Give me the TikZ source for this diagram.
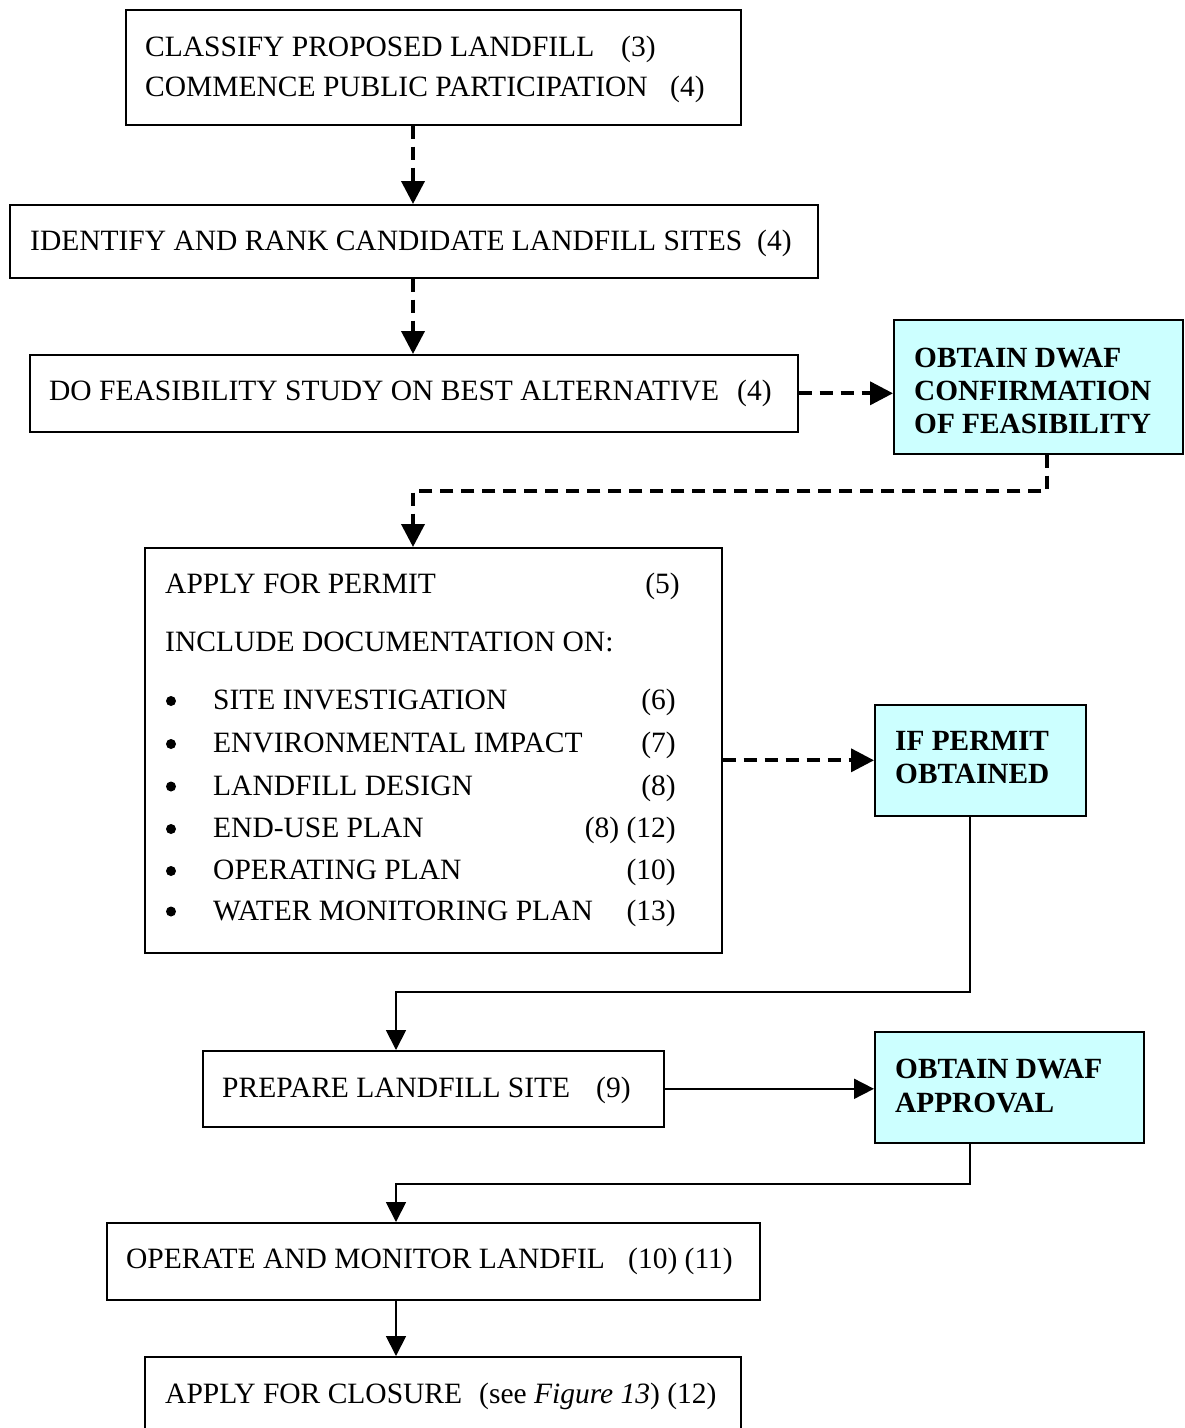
\documentclass[tikz,border=0pt]{standalone}
\usepackage{fontspec}
\setmainfont{Liberation Serif}
\usetikzlibrary{arrows.meta}
\definecolor{cyanfill}{HTML}{CCFFFF}

\begin{document}
\begin{tikzpicture}[x=1pt,y=-1pt,
  box/.style={draw, line width=1.6pt, inner sep=0pt, anchor=north west},
  hot/.style={box, fill=cyanfill},
  txt/.style={anchor=base west, inner sep=0pt, font=\fontsize{29.5}{34}\selectfont},
  num/.style={txt},
  numr/.style={txt, anchor=base east},
  btxt/.style={txt, font=\fontsize{29.3}{34}\selectfont\bfseries},
  bul/.style={circle, fill, inner sep=0pt, minimum size=10pt},
  dasharrow/.style={line width=3.8pt, dash pattern=on 13pt off 8pt, -{Triangle[length=23pt,width=23pt]}},
  solidarrow/.style={line width=1.8pt, -{Triangle[length=20pt,width=20pt]}},
]
\useasboundingbox (0,0) rectangle (1185,1428);

% boxes
\node[box, minimum width=615, minimum height=115] (b1) at (125,9) {};
\node[box, minimum width=808, minimum height=73]  (b2) at (9,204) {};
\node[box, minimum width=768, minimum height=77]  (b3) at (29,354) {};
\node[hot, minimum width=289, minimum height=134] (cA) at (893,319) {};
\node[box, minimum width=577, minimum height=405] (b4) at (144,547) {};
\node[hot, minimum width=211, minimum height=111] (cB) at (874,704) {};
\node[box, minimum width=461, minimum height=76]  (b5) at (202,1050) {};
\node[hot, minimum width=269, minimum height=111] (cC) at (874,1031) {};
\node[box, minimum width=653, minimum height=77]  (b6) at (106,1222) {};
\node[box, minimum width=596, minimum height=76]  (b7) at (144,1356) {};

% texts
\node[txt] (t1a) at (145,56.5) {CLASSIFY PROPOSED LANDFILL};
\node[num] (n1a) at (621,56.5) {(3)};
\node[txt] (t1b) at (145,96) {COMMENCE PUBLIC PARTICIPATION};
\node[num] (n1b) at (670,96) {(4)};
\node[txt] (t2) at (30,250) {IDENTIFY AND RANK CANDIDATE LANDFILL SITES};
\node[num] (n2) at (757,250) {(4)};
\node[txt] (t3) at (49,400.5) {DO FEASIBILITY STUDY ON BEST ALTERNATIVE};
\node[num] (n3) at (737,400.5) {(4)};

\node[btxt] (tA1) at (914,367) {OBTAIN DWAF};
\node[btxt] (tA2) at (914,400) {CONFIRMATION};
\node[btxt] (tA3) at (914,433) {OF FEASIBILITY};

\node[txt] (t4a) at (165,593) {APPLY FOR PERMIT};
\node[numr] (n4a) at (680,593) {(5)};
\node[txt] (t4b) at (165,651) {INCLUDE DOCUMENTATION ON:};
\foreach \y/\item/\ref [count=\i] in {
  709.5/SITE INVESTIGATION/(6),
  752.5/ENVIRONMENTAL IMPACT/(7),
  795/LANDFILL DESIGN/(8),
  837.5/END-USE PLAN/(8) (12),
  879.5/OPERATING PLAN/(10),
  920/WATER MONITORING PLAN/(13)} {
  \node[bul] (bu\i) at (171,\y-8.5) {};
  \node[txt] (it\i) at (213,\y) {\item};
  \node[numr] (nr\i) at (676,\y) {\ref};
}

\node[btxt] (tB1) at (895,750) {IF PERMIT};
\node[btxt] (tB2) at (895,783.5) {OBTAINED};

\node[txt] (t5) at (222,1097) {PREPARE LANDFILL SITE};
\node[num] (n5) at (596,1097) {(9)};

\node[btxt] (tC1) at (895,1078) {OBTAIN DWAF};
\node[btxt] (tC2) at (895,1112) {APPROVAL};

\node[txt] (t6) at (126,1268) {OPERATE AND MONITOR LANDFIL};
\node[num] (n6) at (628,1268) {(10) (11)};

\node[txt] (t7) at (165,1403) {APPLY FOR CLOSURE};
\node[num] (n7) at (479,1403) {(see \textit{Figure 13}) (12)};

% connector columns and rows
\coordinate (colA) at (413,0);
\coordinate (colB) at (396,0);
\coordinate (colC) at (1047,0);
\coordinate (colD) at (970,0);
\coordinate (rowA) at (0,491);
\coordinate (rowB) at (0,992);
\coordinate (rowC) at (0,1184);

% connectors
\draw[dasharrow] (b1.south -| colA) -- (b2.north -| colA);
\draw[dasharrow] (b2.south -| colA) -- (b3.north -| colA);
\draw[dasharrow] (b3.east) -- (cA.west |- b3.east);
\draw[dasharrow] (cA.south -| colC) |- (colA |- rowA) -- (b4.north -| colA);
\draw[dasharrow] (b4.east |- cB.west) -- (cB.west);
\draw[solidarrow] (cB.south -| colD) |- (colB |- rowB) -- (b5.north -| colB);
\draw[solidarrow] (b5.east) -- (cC.west |- b5.east);
\draw[solidarrow] (cC.south -| colD) |- (colB |- rowC) -- (b6.north -| colB);
\draw[solidarrow] (b6.south -| colB) -- (b7.north -| colB);
\end{tikzpicture}
\end{document}
